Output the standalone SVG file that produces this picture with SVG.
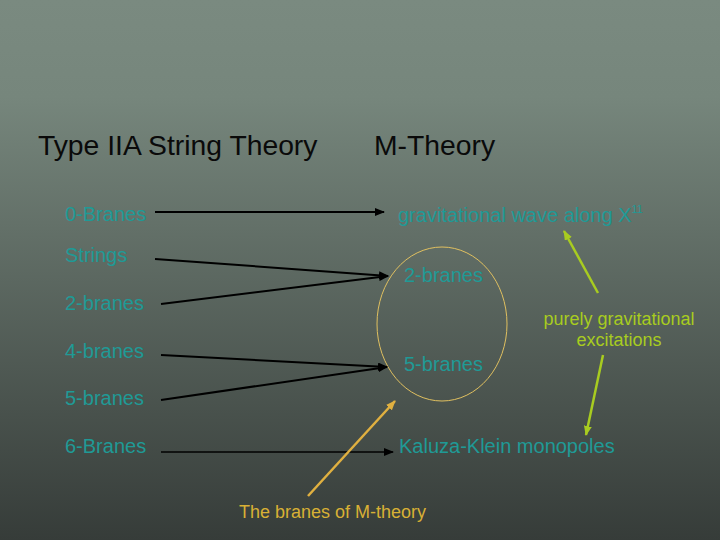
<svg xmlns="http://www.w3.org/2000/svg" width="720" height="540" viewBox="0 0 720 540">
  <defs>
    <linearGradient id="bg" x1="0" y1="0" x2="0" y2="1">
      <stop offset="0" stop-color="#7a8a80"/>
      <stop offset="0.18" stop-color="#76867c"/>
      <stop offset="1" stop-color="#363c39"/>
    </linearGradient>
    <marker id="ah-black" viewBox="0 0 10 8" refX="9" refY="4" markerWidth="10" markerHeight="8" markerUnits="userSpaceOnUse" orient="auto">
      <path d="M0,0 L10,4 L0,8 z" fill="#000"/>
    </marker>
    <marker id="ah-orange" viewBox="0 0 10 8" refX="9" refY="4" markerWidth="10" markerHeight="8" markerUnits="userSpaceOnUse" orient="auto">
      <path d="M0,0 L10,4 L0,8 z" fill="#e0b040"/>
    </marker>
    <marker id="ah-green" viewBox="0 0 10 8" refX="9" refY="4" markerWidth="10" markerHeight="8" markerUnits="userSpaceOnUse" orient="auto">
      <path d="M0,0 L10,4 L0,8 z" fill="#a8cc20"/>
    </marker>
    <style>
      text { font-family: "Liberation Sans", Arial, sans-serif; }
      .title { font-size: 28.3px; fill: #0a0a0a; }
      .lbl { font-size: 20px; fill: #1f9a96; }
      .green { font-size: 18px; fill: #a8cc20; }
      .orange { font-size: 18px; fill: #d8b035; }
      .blk { stroke: #000; stroke-width: 2; fill: none; marker-end: url(#ah-black); }
      .org { stroke: #e0b040; stroke-width: 2.5; fill: none; marker-end: url(#ah-orange); }
      .grn { stroke: #a8cc20; stroke-width: 2.5; fill: none; marker-end: url(#ah-green); }
    </style>
  </defs>
  <rect width="720" height="540" fill="url(#bg)"/>

  <g id="headings">
    <text class="title" x="38" y="155">Type IIA String Theory</text>
    <text class="title" x="374" y="155">M-Theory</text>
  </g>

  <g id="n-0branes"><text class="lbl" x="65" y="221">0-Branes</text></g>
  <g id="n-strings"><text class="lbl" x="65" y="262">Strings</text></g>
  <g id="n-2branes-a"><text class="lbl" x="65" y="310">2-branes</text></g>
  <g id="n-4branes"><text class="lbl" x="65" y="358">4-branes</text></g>
  <g id="n-5branes-a"><text class="lbl" x="65" y="405">5-branes</text></g>
  <g id="n-6branes"><text class="lbl" x="65" y="453">6-Branes</text></g>

  <g id="n-gravwave"><text class="lbl" x="398" y="222">gravitational wave along X<tspan font-size="11" dy="-9">11</tspan></text></g>
  <g id="n-membranes">
    <ellipse cx="442" cy="324" rx="65" ry="77" fill="none" stroke="#e0c060" stroke-width="1"/>
    <text class="lbl" x="404" y="282">2-branes</text>
    <text class="lbl" x="404" y="371">5-branes</text>
  </g>
  <g id="n-kk"><text class="lbl" x="399" y="453">Kaluza-Klein monopoles</text></g>

  <g id="n-purely">
    <text class="green" x="619" y="325" text-anchor="middle">purely gravitational</text>
    <text class="green" x="619" y="346" text-anchor="middle">excitations</text>
  </g>
  <g id="n-branesof"><text class="orange" x="239" y="518">The branes of M-theory</text></g>

  <g id="connectors">
    <line class="blk" x1="155" y1="212" x2="384" y2="212"/>
    <line class="blk" x1="155" y1="259" x2="388" y2="276"/>
    <line class="blk" x1="161" y1="304" x2="388" y2="276"/>
    <line class="blk" x1="161" y1="355" x2="387" y2="367"/>
    <line class="blk" x1="161" y1="400" x2="387" y2="367"/>
    <line class="blk" x1="161" y1="452" x2="393" y2="452" style="stroke-width:1.5"/>
    <line class="org" x1="308" y1="496" x2="395" y2="401"/>
    <line class="grn" x1="598" y1="293" x2="564" y2="231"/>
    <line class="grn" x1="603" y1="355" x2="586" y2="435"/>
  </g>
</svg>
